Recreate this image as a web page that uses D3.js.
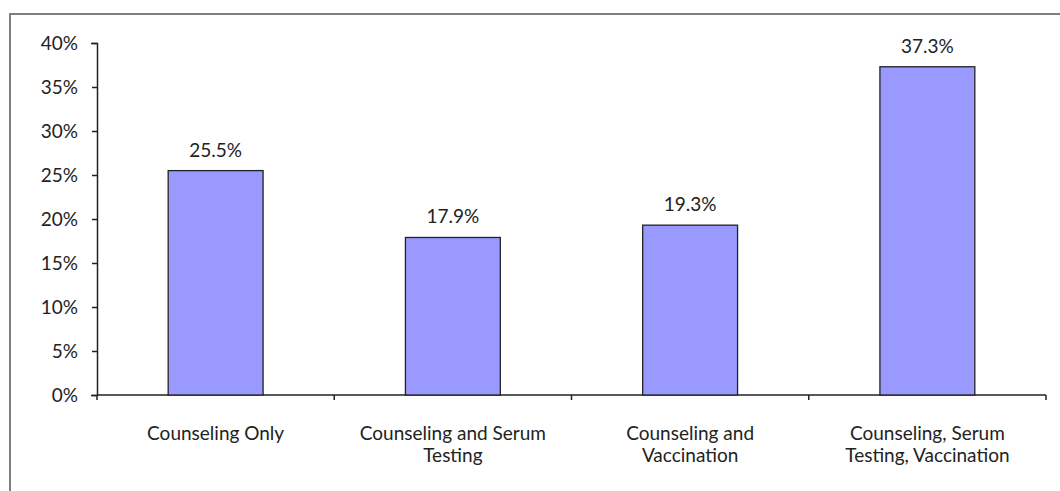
<!DOCTYPE html>
<html lang="en">
<head>
<meta charset="UTF-8">
<title>Counseling bar chart</title>
<script src="https://d3js.org/d3.v7.min.js"></script>
<style>
    body { margin: 0; padding: 0; background: #fff; }
    svg text { font-family: Lato, "Open Sans", sans-serif; fill: #222; }
</style>
</head>
<body>
<svg id="chart" width="1060" height="491"></svg>
<script>
// data
const categories = [
    ["Counseling Only"],
    ["Counseling and Serum", "Testing"],
    ["Counseling and", "Vaccination"],
    ["Counseling, Serum", "Testing, Vaccination"]
];
const values = [25.5, 17.9, 19.3, 37.3];
const yTicks = [0, 5, 10, 15, 20, 25, 30, 35, 40];

const svg = d3.select("#chart");
const margin = { top: 43, left: 97, right: 14, bottom: 96 };
const width = 1060 - margin.left - margin.right;
const height = 491 - margin.top - margin.bottom;

// frame (top + left edges, the rest is cropped in the original)
svg.append("path")
    .attr("d", "M10,491 L10,14 L1060,14")
    .attr("fill", "none")
    .attr("stroke", "#7f7f7f")
    .attr("stroke-width", 2);

const g = svg.append("g").attr("transform", `translate(${margin.left},${margin.top})`);

const x = d3.scaleBand().domain(d3.range(categories.length)).range([0, width]).paddingInner(0).paddingOuter(0);
const y = d3.scaleLinear().domain([0, 40]).range([height, 0]);

// y axis
const yAxis = g.append("g")
    .call(d3.axisLeft(y).tickValues(yTicks).tickFormat(d => d + "%").tickSizeOuter(0).tickSize(6).tickPadding(13));
yAxis.select(".domain").attr("stroke", "#222").attr("stroke-width", 1.5);
yAxis.selectAll(".tick line").attr("stroke", "#222").attr("stroke-width", 1.5).attr("x2", -5);
yAxis.selectAll("text").style("font-size", "19px").attr("fill", "#222");

// x axis
const xAxis = g.append("g").attr("transform", `translate(0,${height})`);
xAxis.append("line").attr("x1", 0).attr("x2", width).attr("stroke", "#222").attr("stroke-width", 1.5);
xAxis.selectAll(".xt").data(d3.range(categories.length + 1)).enter().append("line")
    .attr("x1", d => d * x.bandwidth()).attr("x2", d => d * x.bandwidth())
    .attr("y1", 0).attr("y2", 5)
    .attr("stroke", "#222").attr("stroke-width", 1.5);

// bars
const barW = x.bandwidth() * 0.4;
g.selectAll(".bar").data(values).enter().append("rect")
    .attr("class", "bar")
    .attr("x", (d, i) => x(i) + (x.bandwidth() - barW) / 2)
    .attr("y", d => y(d))
    .attr("width", barW)
    .attr("height", d => height - y(d))
    .attr("fill", "#9999ff")
    .attr("stroke", "#222")
    .attr("stroke-width", 1.3);

// value labels
g.selectAll(".val").data(values).enter().append("text")
    .attr("x", (d, i) => x(i) + x.bandwidth() / 2)
    .attr("y", d => y(d) - 14)
    .attr("text-anchor", "middle")
    .style("font-size", "19px")
    .text(d => d.toFixed(1) + "%");

// category labels
const lab = g.selectAll(".cat").data(categories).enter().append("text")
    .attr("text-anchor", "middle")
    .attr("transform", (d, i) => `translate(${x(i) + x.bandwidth() / 2},${height + 45})`)
    .style("font-size", "19px");
lab.selectAll("tspan").data(d => d).enter().append("tspan")
    .attr("x", 0)
    .attr("dy", (d, i) => i === 0 ? 0 : 22)
    .text(d => d);
</script>
</body>
</html>
